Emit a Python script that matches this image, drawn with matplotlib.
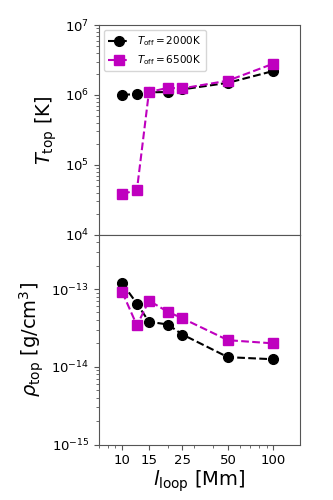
import numpy as np
import matplotlib
matplotlib.use("Agg")
import matplotlib.pyplot as plt
from matplotlib.ticker import FixedLocator, NullFormatter

# loop lengths [Mm]
l_loop = [10, 12.5, 15, 20, 25, 50, 100]

# T_off = 2000K
T_top_2000 = [1.0e6, 1.03e6, 1.09e6, 1.1e6, 1.2e6, 1.49e6, 2.2e6]
rho_top_2000 = [1.18e-13, 6.5e-14, 3.8e-14, 3.5e-14, 2.6e-14, 1.33e-14, 1.25e-14]

# T_off = 6500K
T_top_6500 = [3.8e4, 4.4e4, 1.1e6, 1.26e6, 1.24e6, 1.6e6, 2.8e6]
rho_top_6500 = [9.1e-14, 3.4e-14, 7.1e-14, 5.1e-14, 4.2e-14, 2.2e-14, 2.0e-14]

xticks = [10, 15, 25, 50, 100]

fig, (ax1, ax2) = plt.subplots(2, 1, figsize=(3.33, 5), dpi=100, sharex=True)
plt.subplots_adjust(left=0.297, right=0.901, top=0.95, bottom=0.111, hspace=0)

ax1.plot(l_loop, T_top_2000, "o--", color="k", ms=7, lw=1.5, label=r"$T_{\rm off} = 2000$K")
ax1.plot(l_loop, T_top_6500, "s--", color="m", ms=7, lw=1.5, label=r"$T_{\rm off} = 6500$K")
ax2.plot(l_loop, rho_top_2000, "o--", color="k", ms=7, lw=1.5)
ax2.plot(l_loop, rho_top_6500, "s--", color="m", ms=7, lw=1.5)

for ax in (ax1, ax2):
    ax.set_xscale("log")
    ax.set_yscale("log")
    for s in ax.spines.values():
        s.set_color("#555555")
    ax.tick_params(which="both", colors="#555555", labelcolor="k", labelsize=9.5)

ax1.set_ylim(1e4, 1e7)
ax2.set_ylim(1e-15, 5e-13)
ax2.set_xlim(7, 150)
ax2.xaxis.set_major_locator(FixedLocator(xticks))
ax2.set_xticklabels([str(t) for t in xticks])
ax2.xaxis.set_minor_formatter(NullFormatter())
plt.setp(ax1.get_xticklabels(), visible=False)

ax1.set_ylabel(r"$T_{\rm top}$ [K]", fontsize=14)
ax2.set_ylabel(r"$\rho_{\rm top}$ [g/cm$^3$]", fontsize=14)
ax2.set_xlabel(r"$l_{\rm loop}$ [Mm]", fontsize=14, labelpad=1)

ax1.legend(loc="upper left", fontsize=7.5, handlelength=2)

fig.savefig("out.png")
